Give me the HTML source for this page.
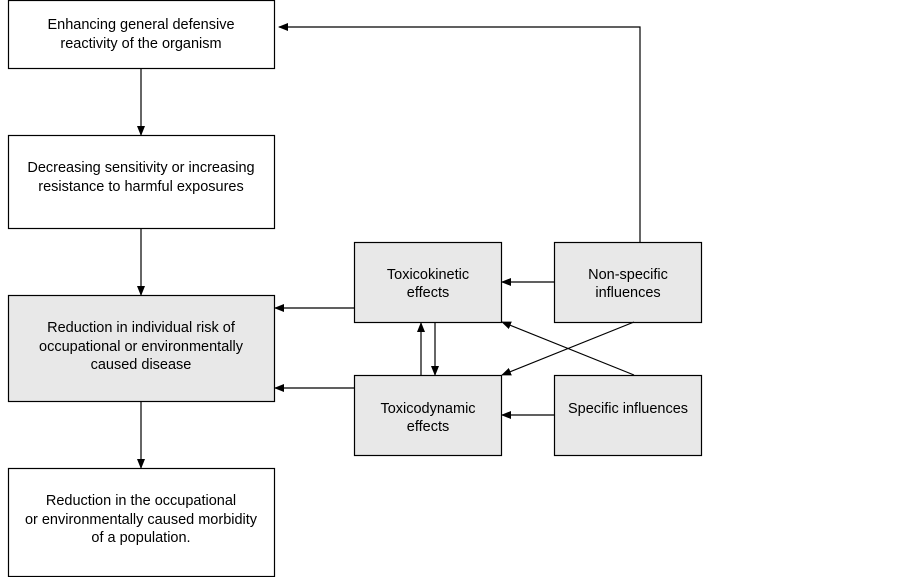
<!DOCTYPE html>
<html><head><meta charset="utf-8"><style>
html,body{margin:0;padding:0;background:#fff;}
svg{display:block;}
text{font-family:"Liberation Sans",Arial,sans-serif;font-size:14.5px;fill:#000;text-anchor:middle;}
</style></head><body>
<svg width="902" height="577" viewBox="0 0 902 577" xmlns="http://www.w3.org/2000/svg">
<defs><marker id="a" markerWidth="10" markerHeight="8" refX="9" refY="4" orient="auto" markerUnits="userSpaceOnUse"><path d="M0,0 L10,4 L0,8 z" fill="#000"/></marker></defs>
<g stroke="#000" stroke-width="1.2">
<rect x="8.5" y="0.5" width="266" height="68" fill="#fff"/>
<rect x="8.5" y="135.5" width="266" height="93" fill="#fff"/>
<rect x="8.5" y="295.5" width="266" height="106" fill="#e8e8e8"/>
<rect x="8.5" y="468.5" width="266" height="108" fill="#fff"/>
<rect x="354.5" y="242.5" width="147" height="80" fill="#e8e8e8"/>
<rect x="354.5" y="375.5" width="147" height="80" fill="#e8e8e8"/>
<rect x="554.5" y="242.5" width="147" height="80" fill="#e8e8e8"/>
<rect x="554.5" y="375.5" width="147" height="80" fill="#e8e8e8"/>
</g>
<g stroke="#000" stroke-width="1.2" fill="none" marker-end="url(#a)">
<line x1="141" y1="68" x2="141" y2="135"/>
<line x1="141" y1="229" x2="141" y2="295"/>
<line x1="141" y1="402" x2="141" y2="468"/>
<line x1="354" y1="308" x2="275" y2="308"/>
<line x1="354" y1="388" x2="275" y2="388"/>
<line x1="554" y1="282" x2="502" y2="282"/>
<line x1="554" y1="415" x2="502" y2="415"/>
<line x1="421" y1="375" x2="421" y2="323"/>
<line x1="435" y1="322" x2="435" y2="375"/>
<line x1="634" y1="375" x2="502" y2="322"/>
<line x1="634" y1="322" x2="502" y2="375"/>
<polyline points="640,242 640,27 279,27"/>
</g>
<text x="141" y="29">Enhancing general defensive</text>
<text x="141" y="48">reactivity of the organism</text>
<text x="141" y="172">Decreasing sensitivity or increasing</text>
<text x="141" y="191">resistance to harmful exposures</text>
<text x="141" y="332">Reduction in individual risk of</text>
<text x="141" y="351">occupational or environmentally</text>
<text x="141" y="369">caused disease</text>
<text x="141" y="505">Reduction in the occupational</text>
<text x="141" y="524">or environmentally caused morbidity</text>
<text x="141" y="542">of a population.</text>
<text x="428" y="279">Toxicokinetic</text>
<text x="428" y="297">effects</text>
<text x="428" y="413">Toxicodynamic</text>
<text x="428" y="431">effects</text>
<text x="628" y="279">Non-specific</text>
<text x="628" y="297">influences</text>
<text x="628" y="413">Specific influences</text>
</svg>
</body></html>
